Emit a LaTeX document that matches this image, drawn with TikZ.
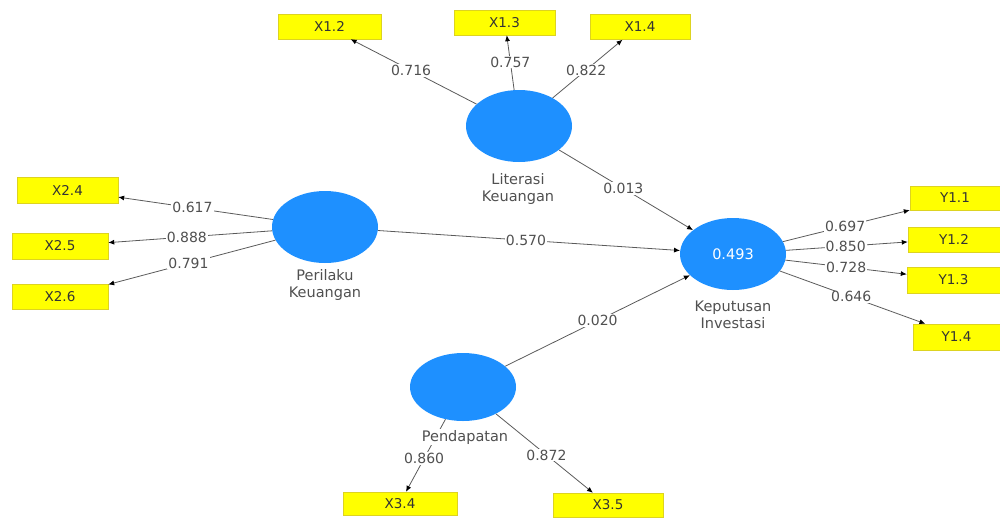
\documentclass[tikz,border=0pt]{standalone}
\usepackage{fontspec}
\setmainfont{DejaVu Sans}
\usetikzlibrary{shapes.geometric,arrows.meta}
\definecolor{constructblue}{RGB}{30,144,255}
\definecolor{itemyellow}{RGB}{255,255,0}
\definecolor{linegray}{RGB}{90,90,90}
\definecolor{textgray}{RGB}{80,80,80}

\begin{document}
\begin{tikzpicture}[x=1pt,y=-1pt,
    construct/.style={ellipse, fill=constructblue, minimum width=106pt, minimum height=72pt, inner sep=0pt},
    item/.style={rectangle, fill=itemyellow, draw=yellow!85!black, line width=0.4pt, minimum height=25pt, inner sep=0pt, text=black!80, font=\fontsize{13.5}{15}\selectfont},
    loading/.style={draw=linegray, line width=0.8pt, -{Latex[length=6pt,width=5pt,color=black]}},
    coef/.style={fill=white, inner sep=1pt, text=textgray, font=\fontsize{14}{16}\selectfont},
    caption/.style={align=center, text=textgray, font=\fontsize{14.5}{17}\selectfont}
]
    % Fix the page size
    \useasboundingbox (0,0) rectangle (1000,517);

    % Draw the constructs
    \node[construct] (lit) at (519,126) {};
    \node[construct] (per) at (325,227) {};
    \node[construct, text=white, font=\fontsize{14.5}{16}\selectfont] (kep) at (733,254) {0.493};
    \node[construct, minimum height=68pt] (pen) at (463,387) {};

    % Draw the indicators
    \node[item, minimum width=103pt] (x12) at (329.5,26.5) {X1.2};
    \node[item, minimum width=101pt] (x13) at (504.5,22.5) {X1.3};
    \node[item, minimum width=100pt] (x14) at (640,27) {X1.4};
    \node[item, minimum width=101pt, minimum height=26pt] (x24) at (67.5,190) {X2.4};
    \node[item, minimum width=96pt, minimum height=26pt] (x25) at (60,246) {X2.5};
    \node[item, minimum width=96pt] (x26) at (60,296.5) {X2.6};
    \node[item, minimum width=90pt, minimum height=24pt] (y11) at (955,198) {Y1.1};
    \node[item, minimum width=92pt] (y12) at (954,239.5) {Y1.2};
    \node[item, minimum width=93pt, minimum height=26pt] (y13) at (953.5,280) {Y1.3};
    \node[item, minimum width=87pt, minimum height=26pt] (y14) at (956.5,337) {Y1.4};
    \node[item, minimum width=114pt, minimum height=23pt] (x34) at (400,503.5) {X3.4};
    \node[item, minimum width=110pt, minimum height=24pt] (x35) at (608,505) {X3.5};

    % Draw the outer loadings
    \draw[loading] (lit) -- node[coef, pos=0.52] {0.716} (x12.-31);
    \draw[loading] (lit) -- node[coef, pos=0.51] {0.757} (x13.-80);
    \draw[loading] (lit) -- node[coef, pos=0.48] {0.822} (x14.-144);
    \draw[loading] (per) -- node[coef, pos=0.52] {0.617} (x24.-8);
    \draw[loading] (per) -- node[coef, pos=0.52] {0.888} (x25.4);
    \draw[loading] (per) -- node[coef, pos=0.52] {0.791} (x26.14);
    \draw[loading] (kep) -- node[coef, pos=0.49] {0.697} (y11.195);
    \draw[loading] (kep) -- node[coef, pos=0.49] {0.850} (y12.183);
    \draw[loading] (kep) -- node[coef, pos=0.5] {0.728} (y13.173);
    \draw[loading] (kep) -- node[coef, pos=0.49] {0.646} (y14.157);
    \draw[loading] (pen) -- node[coef, pos=0.54] {0.860} (x34.63);
    \draw[loading] (pen) -- node[coef, pos=0.52] {0.872} (x35.141);

    % Draw the path coefficients
    \draw[loading] (lit) -- node[coef, pos=0.48] {0.013} (kep);
    \draw[loading] (per) -- node[coef, pos=0.49] {0.570} (kep);
    \draw[loading] (pen) -- node[coef, pos=0.5] {0.020} (kep);

    % Add the construct names
    \node[caption] (litname) at (518,188.5) {Literasi\\Keuangan};
    \node[caption] (pername) at (325,285) {Perilaku\\Keuangan};
    \node[caption] (kepname) at (733,315) {Keputusan\\Investasi};
    \node[caption, fill=white, inner sep=1pt] (penname) at (465,437) {Pendapatan};
\end{tikzpicture}
\end{document}
